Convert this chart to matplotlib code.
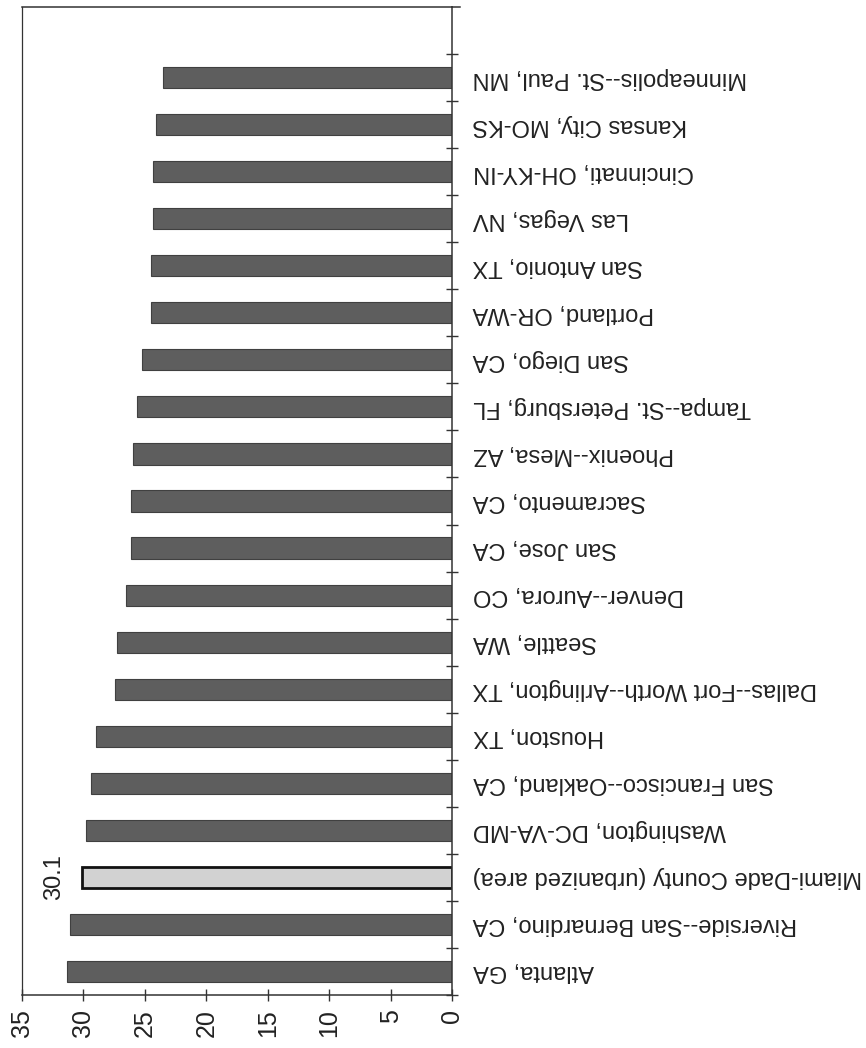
import matplotlib
matplotlib.use("Agg")
import matplotlib.pyplot as plt
import numpy as np

# Data (bottom to top)
categories = [
    "Atlanta, GA",
    "Riverside--San Bernardino, CA",
    "Miami-Dade County (urbanized area)",
    "Washington, DC-VA-MD",
    "San Francisco--Oakland, CA",
    "Houston, TX",
    "Dallas--Fort Worth--Arlington, TX",
    "Seattle, WA",
    "Denver--Aurora, CO",
    "San Jose, CA",
    "Sacramento, CA",
    "Phoenix--Mesa, AZ",
    "Tampa--St. Petersburg, FL",
    "San Diego, CA",
    "Portland, OR-WA",
    "San Antonio, TX",
    "Las Vegas, NV",
    "Cincinnati, OH-KY-IN",
    "Kansas City, MO-KS",
    "Minneapolis--St. Paul, MN",
]
values = [31.3, 31.1, 30.1, 29.8, 29.4, 29.0, 27.4, 27.3, 26.5, 26.1,
          26.1, 26.0, 25.6, 25.2, 24.5, 24.5, 24.3, 24.3, 24.1, 23.5]
highlight = "Miami-Dade County (urbanized area)"
highlight_label = "30.1"
value_ticks = [0, 5, 10, 15, 20, 25, 30, 35]

plt.rcParams['font.family'] = ['Liberation Sans', 'DejaVu Sans']

fig = plt.figure(figsize=(8.66, 10.48), dpi=100)
ax = fig.add_axes([22/866, 53/1048, (452-22)/866, (995-7)/1048])

pos = np.arange(len(categories))
colors = ['#d2d2d2' if c == highlight else '#5e5e5e' for c in categories]
edges = ['#111111' if c == highlight else '#404040' for c in categories]
lws = [2.0 if c == highlight else 0.8 for c in categories]
ax.barh(pos, values, height=0.45, color=colors, edgecolor=edges, linewidth=lws)

ax.set_xlim(35, 0)
ax.set_ylim(-0.5, 20.5)

# value label
hi = categories.index(highlight)
ax.text(values[hi] + 2.3, hi, highlight_label, rotation=90, ha='center', va='center',
        fontsize=17, color='#222222')

# x axis
ax.set_xticks(value_ticks)
ax.set_xticklabels([str(v) for v in value_ticks], rotation=90, fontsize=18, color='#222222')
ax.tick_params(axis='x', direction='inout', length=8, width=1, pad=6, colors='#333333',
               labelcolor='#222222')

# y axis on right
ax.yaxis.tick_right()
ax.set_yticks(pos)
ax.set_yticklabels(categories, rotation=180, fontsize=17, color='#222222')
for lab in ax.get_yticklabels():
    lab.set_ha('left')
    lab.set_va('center')
ax.tick_params(axis='y', which='major', length=0, pad=15)
ax.set_yticks(np.arange(-0.5, 20.0, 1.0), minor=True)
ax.tick_params(axis='y', which='minor', direction='inout', length=9, width=1,
               colors='#333333', right=True, left=False)

for s in ax.spines.values():
    s.set_color('#333333')
    s.set_linewidth(1.1)
ax.spines['left'].set_linewidth(0.9)

# top frame line extends slightly beyond the category axis
ax.plot([1, 1.018], [1, 1], transform=ax.transAxes, color='#333333', lw=1.1,
        clip_on=False)

fig.savefig("out.png", dpi=100)
